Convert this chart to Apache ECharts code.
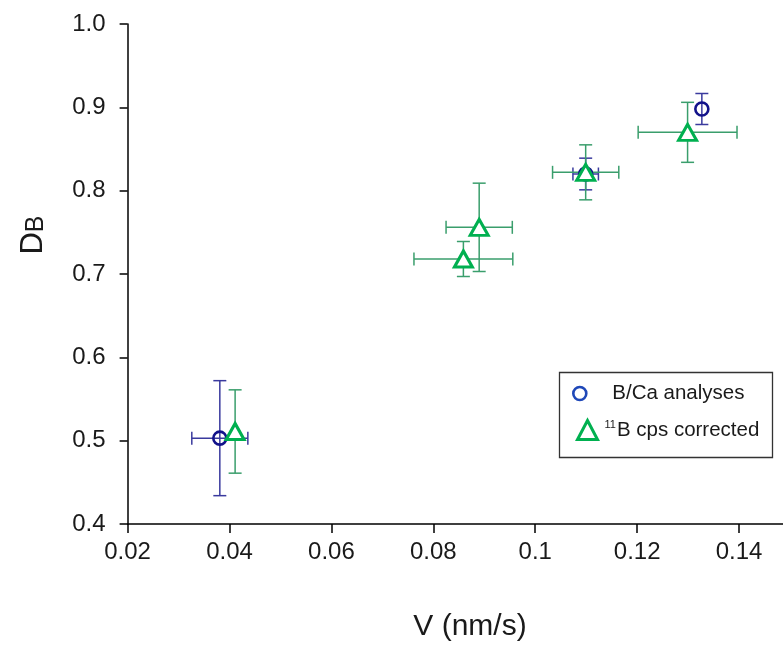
<!DOCTYPE html>
<html>
<head>
<meta charset="utf-8">
<script src="https://cdn.jsdelivr.net/npm/echarts@6/dist/echarts.min.js"></script>
<style>
html,body{margin:0;padding:0;background:#fff;}
#chart{width:783px;height:645px;}
</style>
</head>
<body>
<div id="chart"></div>
<script>
// ---- data ----
const xTicks = [0.02, 0.04, 0.06, 0.08, 0.1, 0.12, 0.14];
const yTicks = [0.4, 0.5, 0.6, 0.7, 0.8, 0.9, 1.0];

const bcaName = 'B/Ca analyses';
const bcaX    = [0.0381, 0.1099, 0.1327];
const bcaY    = [0.503, 0.820, 0.898];
const bcaXErr = [0.0055, 0.0025, 0];
const bcaYErr = [0.069, 0.019, 0.0186];

const cpsName = '11B cps corrected';
const cpsX    = [0.0411, 0.0859, 0.0890, 0.1099, 0.1299];
const cpsY    = [0.511, 0.718, 0.756, 0.822, 0.870];
const cpsXErr = [0, 0.0097, 0.0065, 0.0065, 0.0097];
const cpsYErr = [0.050, 0.021, 0.053, 0.033, 0.036];

// ---- build ----
const font = '"Liberation Sans", Arial, sans-serif';
function zipPts(xs, ys) { return xs.map((x, i) => [x, ys[i]]); }
function zipErr(xs, ys, xe, ye) { return xs.map((x, i) => [x, ys[i], xe[i], ye[i]]); }

function errRender(color) {
  return function (params, api) {
    const x = api.value(0), y = api.value(1), dx = api.value(2), dy = api.value(3);
    const cap = 6.5;
    const style = { stroke: color, lineWidth: 1.5 };
    const ch = [];
    if (dy > 0) {
      const t = api.coord([x, y + dy]), b = api.coord([x, y - dy]);
      ch.push({ type: 'line', shape: { x1: t[0], y1: t[1], x2: b[0], y2: b[1] }, style });
      ch.push({ type: 'line', shape: { x1: t[0] - cap, y1: t[1], x2: t[0] + cap, y2: t[1] }, style });
      ch.push({ type: 'line', shape: { x1: b[0] - cap, y1: b[1], x2: b[0] + cap, y2: b[1] }, style });
    }
    if (dx > 0) {
      const l = api.coord([x - dx, y]), r = api.coord([x + dx, y]);
      ch.push({ type: 'line', shape: { x1: l[0], y1: l[1], x2: r[0], y2: r[1] }, style });
      ch.push({ type: 'line', shape: { x1: l[0], y1: l[1] - cap, x2: l[0], y2: l[1] + cap }, style });
      ch.push({ type: 'line', shape: { x1: r[0], y1: r[1] - cap, x2: r[0], y2: r[1] + cap }, style });
    }
    return { type: 'group', children: ch };
  };
}

const chart = echarts.init(document.getElementById('chart'), null, { renderer: 'canvas' });
const axisLine = { lineStyle: { color: '#000', width: 1.5 } };

chart.setOption({
  animation: false,
  backgroundColor: '#fff',
  grid: { left: 127.6, top: 24, height: 500, width: 662.4, containLabel: false, outerBoundsMode: 'none' },
  xAxis: {
    type: 'value', min: 0.02, max: 0.15, interval: 0.02,
    axisLine: axisLine,
    axisTick: { show: true, inside: false, length: 9, lineStyle: { color: '#000', width: 1.5 } },
    axisLabel: { margin: 16, fontSize: 24, color: '#1a1a1a', fontFamily: font, showMaxLabel: false,
      formatter: v => (xTicks.some(t => Math.abs(t - v) < 1e-9) ? String(+v.toFixed(2)) : '') },
    splitLine: { show: false }
  },
  yAxis: {
    type: 'value', min: 0.4, max: 1.0, interval: 0.1,
    axisLine: axisLine,
    axisTick: { show: true, inside: false, length: 8, lineStyle: { color: '#000', width: 1.5 } },
    axisLabel: { margin: 22, fontSize: 24, color: '#1a1a1a', fontFamily: font,
      formatter: v => (yTicks.some(t => Math.abs(t - v) < 1e-9) ? v.toFixed(1) : '') },
    splitLine: { show: false }
  },
  legend: [
    {
      selectedMode: false, left: 572, top: 383, orient: 'vertical',
      itemWidth: 13, itemHeight: 13, padding: 0,
      data: [{ name: bcaName, icon: 'circle',
        itemStyle: { color: 'transparent', borderColor: '#1f48b8', borderWidth: 2.6 } }],
      textStyle: { fontSize: 20.5, color: '#1a1a1a', fontFamily: font, padding: [0, 0, 0, 21] }
    },
    {
      selectedMode: false, left: 576, top: 419, orient: 'vertical',
      itemWidth: 20, itemHeight: 19, padding: 0,
      data: [{ name: cpsName, icon: 'triangle',
        itemStyle: { color: '#fff', borderColor: '#00b050', borderWidth: 3 } }],
      formatter: n => '{s|11}{t|' + n.replace(/^11/, '') + '}',
      textStyle: { fontSize: 20.5, color: '#1a1a1a', fontFamily: font, padding: [0, 0, 0, 2],
        rich: {
          s: { fontSize: 11, verticalAlign: 'top', color: '#1a1a1a', fontFamily: font, padding: [0, 1, 0, 0] },
          t: { fontSize: 20.5, color: '#1a1a1a', fontFamily: font }
        } }
    }
  ],
  graphic: [
    { type: 'rect', shape: { x: 559.5, y: 372.5, width: 213, height: 85 },
      style: { fill: 'none', stroke: '#333', lineWidth: 1.3 }, z: 100 },
    { type: 'text', x: 470, y: 627,
      style: { text: 'V (nm/s)', fontSize: 30, fill: '#1a1a1a', fontFamily: font, align: 'center', verticalAlign: 'middle' } },
    { type: 'text', x: 33, y: 235, rotation: Math.PI / 2,
      style: { text: '{d|D}{b|B}', fill: '#1a1a1a', align: 'center', verticalAlign: 'middle',
        rich: { d: { fontSize: 31, fontFamily: font, fill: '#1a1a1a' },
                b: { fontSize: 25, fontFamily: font, fill: '#1a1a1a', verticalAlign: 'bottom' } } } }
  ],
  series: [
    { type: 'custom', name: 'bcaErr', data: zipErr(bcaX, bcaY, bcaXErr, bcaYErr),
      renderItem: errRender('#3a3a9e'), z: 2, silent: true, encode: { x: 0, y: 1 } },
    { type: 'custom', name: 'cpsErr', data: zipErr(cpsX, cpsY, cpsXErr, cpsYErr),
      renderItem: errRender('#3a9e6c'), z: 3, silent: true, encode: { x: 0, y: 1 } },
    { type: 'scatter', name: bcaName, data: zipPts(bcaX, bcaY), symbol: 'circle', symbolSize: 13,
      itemStyle: { color: 'transparent', borderColor: '#12128a', borderWidth: 2.6, opacity: 1 },
      emphasis: { disabled: true }, z: 4 },
    { type: 'scatter', name: cpsName, data: zipPts(cpsX, cpsY), symbol: 'triangle', symbolSize: [18, 16],
      itemStyle: { color: '#fff', borderColor: '#00b050', borderWidth: 3, opacity: 1 },
      emphasis: { disabled: true }, z: 5 }
  ]
});
</script>
</body>
</html>
